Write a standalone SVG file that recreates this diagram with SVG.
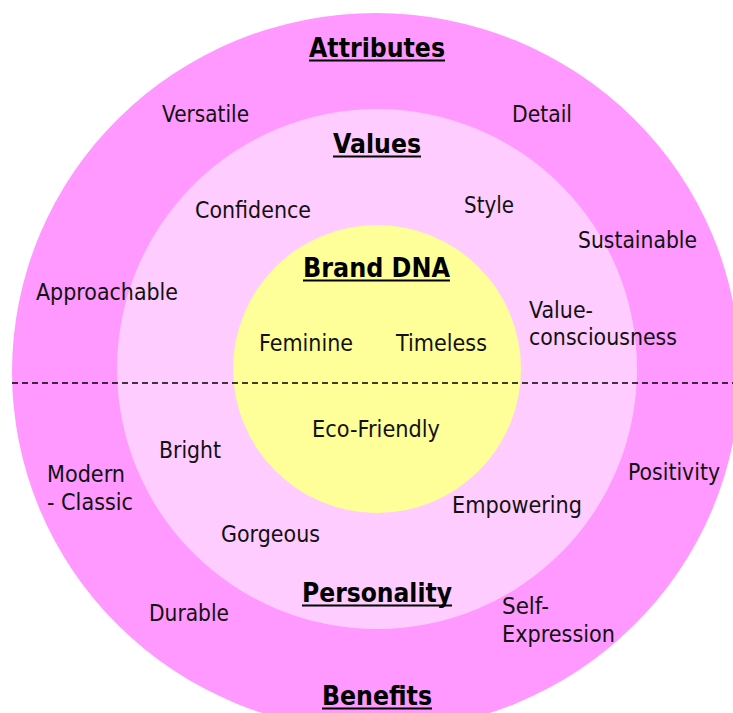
<svg xmlns="http://www.w3.org/2000/svg" width="733" height="713" viewBox="0 0 733 713">
  <style>
    .lbl { font-family: "DejaVu Sans", "Liberation Sans", sans-serif; font-size: 23px; fill: #111; }
    .hdr { font-family: "DejaVu Sans", "Liberation Sans", sans-serif; font-size: 26px; font-weight: bold; fill: #000; }
    .ul { stroke: #000; stroke-width: 2; }
  </style>
  <rect width="733" height="713" fill="#ffffff"/>

  <!-- outer ring: attributes / benefits -->
  <g id="ring-outer">
    <ellipse cx="376" cy="372" rx="364" ry="359" fill="#ff99ff"/>
  </g>
  <!-- middle ring: values / personality -->
  <g id="ring-middle">
    <circle cx="377" cy="369" r="260" fill="#ffccff"/>
  </g>
  <!-- core: brand DNA -->
  <g id="ring-core">
    <circle cx="377" cy="369" r="144" fill="#ffff99"/>
  </g>

  <!-- divider between upper and lower halves -->
  <g id="connectors">
    <line x1="12" y1="383" x2="733" y2="383" stroke="#000" stroke-width="1.3" stroke-dasharray="6,4"/>
  </g>

  <g id="attributes">
    <text class="hdr" x="309" y="57" textLength="136" lengthAdjust="spacingAndGlyphs">Attributes</text>
    <line class="ul" x1="309" y1="60.5" x2="445" y2="60.5"/>
    <text class="lbl" x="162" y="122" textLength="87" lengthAdjust="spacingAndGlyphs">Versatile</text>
    <text class="lbl" x="512" y="122" textLength="60" lengthAdjust="spacingAndGlyphs">Detail</text>
    <text class="lbl" x="578" y="248" textLength="119" lengthAdjust="spacingAndGlyphs">Sustainable</text>
    <text class="lbl" x="36" y="300" textLength="142" lengthAdjust="spacingAndGlyphs">Approachable</text>
  </g>

  <g id="values">
    <text class="hdr" x="333" y="153" textLength="88" lengthAdjust="spacingAndGlyphs">Values</text>
    <line class="ul" x1="333" y1="156.5" x2="421" y2="156.5"/>
    <text class="lbl" x="195" y="218" textLength="116" lengthAdjust="spacingAndGlyphs">Confidence</text>
    <text class="lbl" x="464" y="213" textLength="50" lengthAdjust="spacingAndGlyphs">Style</text>
    <text class="lbl" x="529" y="318" textLength="64" lengthAdjust="spacingAndGlyphs">Value-</text>
    <text class="lbl" x="529" y="345" textLength="148" lengthAdjust="spacingAndGlyphs">consciousness</text>
  </g>

  <g id="brand-dna">
    <text class="hdr" x="303" y="277" textLength="147" lengthAdjust="spacingAndGlyphs">Brand DNA</text>
    <line class="ul" x1="303" y1="280.5" x2="450" y2="280.5"/>
    <text class="lbl" x="259" y="351" textLength="94" lengthAdjust="spacingAndGlyphs">Feminine</text>
    <text class="lbl" x="396" y="351" textLength="91" lengthAdjust="spacingAndGlyphs">Timeless</text>
    <text class="lbl" x="312" y="437" textLength="128" lengthAdjust="spacingAndGlyphs">Eco-Friendly</text>
  </g>

  <g id="personality">
    <text class="lbl" x="159" y="458" textLength="62" lengthAdjust="spacingAndGlyphs">Bright</text>
    <text class="lbl" x="452" y="513" textLength="130" lengthAdjust="spacingAndGlyphs">Empowering</text>
    <text class="lbl" x="221" y="542" textLength="99" lengthAdjust="spacingAndGlyphs">Gorgeous</text>
    <text class="hdr" x="302" y="602" textLength="150" lengthAdjust="spacingAndGlyphs">Personality</text>
    <line class="ul" x1="302" y1="605.5" x2="452" y2="605.5"/>
  </g>

  <g id="benefits">
    <text class="lbl" x="628" y="480" textLength="92" lengthAdjust="spacingAndGlyphs">Positivity</text>
    <text class="lbl" x="47" y="482" textLength="78" lengthAdjust="spacingAndGlyphs">Modern</text>
    <text class="lbl" x="47" y="510" textLength="86" lengthAdjust="spacingAndGlyphs">- Classic</text>
    <text class="lbl" x="149" y="621" textLength="80" lengthAdjust="spacingAndGlyphs">Durable</text>
    <text class="lbl" x="502" y="614" textLength="47" lengthAdjust="spacingAndGlyphs">Self-</text>
    <text class="lbl" x="502" y="642" textLength="113" lengthAdjust="spacingAndGlyphs">Expression</text>
    <text class="hdr" x="322" y="705" textLength="110" lengthAdjust="spacingAndGlyphs">Benefits</text>
    <line class="ul" x1="322" y1="708.5" x2="432" y2="708.5"/>
  </g>
</svg>
